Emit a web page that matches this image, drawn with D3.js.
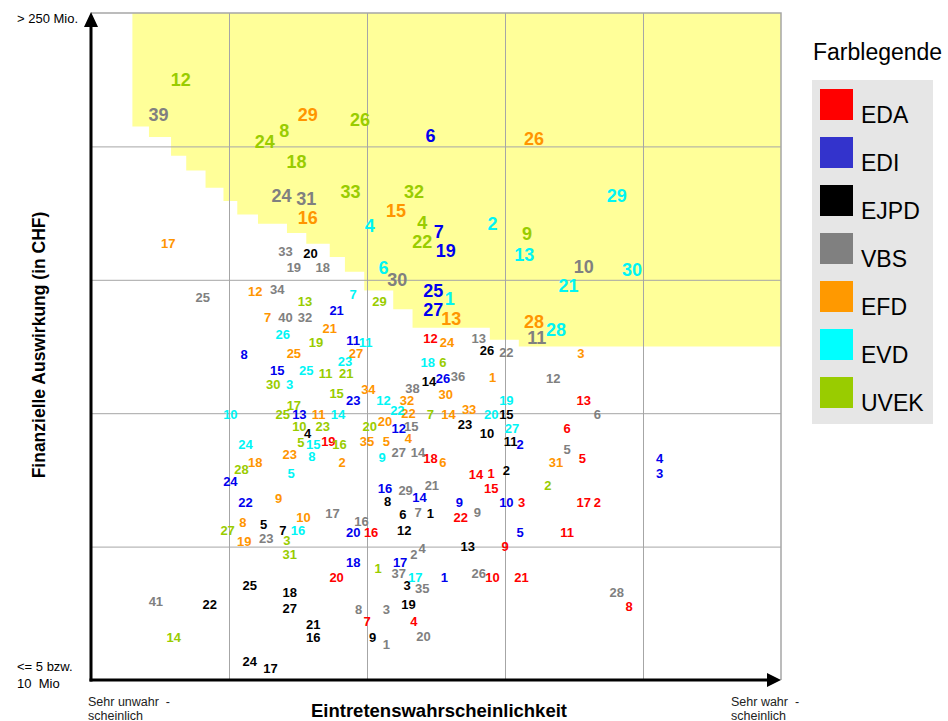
<!DOCTYPE html>
<html>
<head>
<meta charset="utf-8">
<script src="https://cdn.jsdelivr.net/npm/d3@7"></script>
<style>
body{margin:0;background:#fff;font-family:"Liberation Sans",Arial,sans-serif;}
</style>
</head>
<body>
<div id="canvas"></div>
<script>
// Departments, legend colours and label colours
var departments = ['EDA','EDI','EJPD','VBS','EFD','EVD','UVEK'];
var legendColors = ['#ff0000','#3333cc','#000000','#808080','#ff9900','#00ffff','#99cc00'];
var labelColors = ['#ff0000','#0000ee','#000000','#808080','#ff9500','#00f5f5','#99cc00'];

// Risks per department: [number, likelihood, impact], both on a 0-5 scale
var eda = [
    ['12',2.46,2.56],['19',1.72,1.79],['18',2.46,1.66],['14',2.79,1.54],['1',2.90,1.55],
    ['15',2.90,1.44],['22',2.68,1.22],['3',3.12,1.33],['16',2.03,1.11],['9',3.00,1.00],
    ['20',1.78,0.77],['10',2.91,0.77],['21',3.12,0.77],['7',2.00,0.44],['4',2.34,0.44],
    ['8',3.90,0.55],['13',3.57,2.10],['6',3.45,1.89],['5',3.56,1.66],['17',3.57,1.33],
    ['2',3.67,1.33],['11',3.45,1.11]
];
var edi = [
    ['6',2.46,4.08],['7',2.52,3.36],['19',2.57,3.22],['25',2.48,2.92],['27',2.48,2.78],
    ['21',1.78,2.77],['11',1.90,2.55],['8',1.11,2.44],['15',1.35,2.32],['26',2.55,2.26],
    ['23',1.90,2.10],['13',1.51,1.99],['12',2.23,1.89],['2',3.11,1.77],['24',1.01,1.49],
    ['16',2.13,1.44],['14',2.38,1.37],['9',2.67,1.33],['10',3.01,1.33],['22',1.12,1.33],
    ['20',1.90,1.11],['5',3.11,1.11],['18',1.90,0.88],['17',2.24,0.88],['1',2.56,0.77],
    ['4',4.12,1.66],['3',4.12,1.55]
];
var ejpd = [
    ['20',1.59,3.20],['26',2.87,2.47],['14',2.45,2.24],['15',3.01,1.99],['4',1.57,1.85],
    ['23',2.71,1.92],['10',2.87,1.85],['11',3.04,1.79],['2',3.01,1.57],['8',2.15,1.34],
    ['6',2.26,1.24],['1',2.46,1.25],['12',2.27,1.12],['5',1.25,1.17],['7',1.39,1.12],
    ['13',2.73,1.00],['25',1.15,0.71],['18',1.44,0.66],['27',1.44,0.54],['22',0.86,0.57],
    ['21',1.61,0.42],['16',1.61,0.32],['9',2.04,0.32],['3',2.29,0.71],['19',2.30,0.57],
    ['24',1.15,0.14],['17',1.30,0.09]
];
var vbs = [
    ['39',0.49,4.24],['24',1.38,3.63],['31',1.56,3.61],['10',3.57,3.10],['30',2.22,3.00],
    ['11',3.23,2.57],['33',1.41,3.21],['19',1.47,3.09],['18',1.68,3.09],['25',0.81,2.87],
    ['34',1.35,2.93],['40',1.41,2.72],['32',1.55,2.72],['13',2.81,2.56],['22',3.01,2.46],
    ['36',2.66,2.28],['38',2.33,2.19],['12',3.35,2.26],['6',3.67,1.99],['15',2.32,1.90],
    ['27',2.23,1.71],['14',2.37,1.71],['5',3.45,1.73],['29',2.28,1.42],['21',2.47,1.46],
    ['9',2.80,1.26],['7',2.37,1.26],['17',1.75,1.25],['16',1.96,1.19],['23',1.27,1.06],
    ['4',2.40,0.99],['2',2.34,0.94],['37',2.23,0.80],['35',2.40,0.69],['26',2.81,0.80],
    ['28',3.81,0.66],['41',0.47,0.59],['8',1.94,0.53],['3',2.14,0.53],['20',2.41,0.33],
    ['1',2.14,0.27]
];
var efd = [
    ['29',1.57,4.24],['26',3.21,4.06],['16',1.57,3.47],['15',2.21,3.52],['13',2.61,2.71],
    ['28',3.21,2.69],['17',0.56,3.27],['12',1.19,2.91],['7',1.28,2.72],['21',1.73,2.64],
    ['24',2.58,2.53],['27',1.92,2.45],['25',1.47,2.45],['3',3.55,2.45],['1',2.91,2.27],
    ['34',2.01,2.18],['30',2.57,2.14],['32',2.29,2.10],['33',2.74,2.03],['11',1.65,1.99],
    ['22',2.30,2.00],['14',2.59,1.99],['20',2.13,1.94],['35',2.00,1.79],['5',2.14,1.79],
    ['4',2.30,1.81],['23',1.44,1.69],['18',1.19,1.63],['2',1.82,1.63],['6',2.55,1.63],
    ['31',3.37,1.63],['9',1.36,1.36],['10',1.54,1.22],['8',1.10,1.18],['19',1.11,1.04]
];
var evd = [
    ['4',2.02,3.41],['2',2.91,3.42],['13',3.14,3.19],['29',3.81,3.63],['30',3.92,3.08],
    ['21',3.46,2.96],['6',2.12,3.09],['1',2.60,2.86],['28',3.37,2.63],['7',1.90,2.89],
    ['26',1.39,2.59],['11',1.99,2.53],['23',1.84,2.39],['18',2.44,2.38],['25',1.56,2.32],
    ['3',1.44,2.22],['12',2.12,2.10],['19',3.01,2.10],['10',1.01,1.99],['14',1.79,1.99],
    ['22',2.22,2.02],['20',2.90,1.99],['27',3.05,1.89],['24',1.12,1.77],['15',1.61,1.77],
    ['8',1.60,1.68],['9',2.11,1.67],['5',1.45,1.55],['16',1.50,1.12],['17',2.35,0.77]
];
var uvek = [
    ['12',0.65,4.50],['8',1.40,4.12],['24',1.26,4.04],['26',1.95,4.20],['18',1.49,3.89],
    ['33',1.88,3.66],['32',2.34,3.66],['4',2.40,3.43],['22',2.40,3.29],['9',3.16,3.35],
    ['29',2.09,2.84],['13',1.55,2.84],['19',1.63,2.53],['6',2.55,2.38],['11',1.70,2.30],
    ['21',1.85,2.30],['30',1.32,2.22],['15',1.78,2.15],['17',1.47,2.06],['25',1.39,1.99],
    ['7',2.46,1.99],['10',1.51,1.90],['23',1.68,1.90],['20',2.02,1.90],['5',1.52,1.78],
    ['16',1.80,1.77],['28',1.09,1.58],['2',3.31,1.46],['27',0.99,1.12],['3',1.42,1.05],
    ['31',1.44,0.94],['1',2.08,0.84],['14',0.60,0.32]
];
var risks = [eda, edi, ejpd, vbs, efd, evd, uvek];

// Lower-left edge of the yellow zone: [likelihood where step starts, impact of step]
var zoneSteps = [
    [0.30,4.15],[0.42,4.07],[0.58,3.93],[0.69,3.82],[0.83,3.69],[0.96,3.59],
    [1.06,3.49],[1.21,3.42],[1.42,3.35],[1.56,3.27],[1.73,3.17],[1.84,3.06],
    [1.98,2.92],[2.19,2.78],[2.33,2.64],[2.89,2.55],[3.10,2.50]
];
var gridValues = [1,2,3,4];

var W = 948, H = 721;
var m = {t:13, l:91, r:167, b:41};

var svg = d3.select('#canvas').append('svg')
    .attr('width', W).attr('height', H)
    .style('font-family','"Liberation Sans", Arial, sans-serif');

var x = d3.scaleLinear().domain([0,5]).range([m.l, W - m.r]);
var y = d3.scaleLinear().domain([0,5]).range([H - m.b, m.t]);

//Yellow zone as a staircase polygon
var zonePts = [[zoneSteps[0][0], 5]];
zoneSteps.forEach(function(s, i){
    var next = i < zoneSteps.length - 1 ? zoneSteps[i+1][0] : 5;
    zonePts.push([s[0], s[1]]);
    zonePts.push([next, s[1]]);
});
zonePts.push([5,5]);
svg.append('path')
    .datum(zonePts)
    .attr('d', d3.line().x(function(d){return x(d[0]);}).y(function(d){return y(d[1]);}))
    .attr('fill','#ffff99');

//Grid lines via axes
svg.append('g')
    .attr('transform','translate(0,'+y(0)+')')
    .call(d3.axisBottom(x).tickValues(gridValues).tickSize(-(y(0)-y(5))).tickFormat(''))
    .call(function(g){ g.select('.domain').remove(); g.selectAll('line').attr('stroke','#a6a6a6'); });
svg.append('g')
    .attr('transform','translate('+x(0)+',0)')
    .call(d3.axisLeft(y).tickValues(gridValues).tickSize(-(x(5)-x(0))).tickFormat(''))
    .call(function(g){ g.select('.domain').remove(); g.selectAll('line').attr('stroke','#a6a6a6'); });

//Top and right border
svg.append('path')
    .attr('d','M'+x(0)+','+y(5)+'H'+x(5)+'V'+y(0))
    .attr('fill','none').attr('stroke','#a6a6a6').attr('stroke-width',1.5);

//Axes with arrows
svg.append('line').attr('x1',x(0)).attr('x2',x(0)).attr('y1',y(0)+1.5).attr('y2',y(5)+12)
    .attr('stroke','#000').attr('stroke-width',3);
svg.append('path')
    .attr('d','M'+(x(0)-7)+','+(y(5)+14)+'L'+x(0)+','+(y(5)-1)+'L'+(x(0)+7)+','+(y(5)+14)+'Z')
    .attr('fill','#000');
svg.append('line').attr('x1',x(0)-1.5).attr('x2',x(5)-12).attr('y1',y(0)).attr('y2',y(0))
    .attr('stroke','#000').attr('stroke-width',3);
svg.append('path')
    .attr('d','M'+(x(5)-14)+','+(y(0)-7)+'L'+(x(5))+','+y(0)+'L'+(x(5)-14)+','+(y(0)+7)+'Z')
    .attr('fill','#000');

//Inside the yellow zone labels are drawn larger
function inZone(d){
    var step = null;
    zoneSteps.forEach(function(s){ if(d[1] >= s[0]) step = s; });
    return step !== null && d[2] > step[1];
}

var labels = svg.append('g').attr('class','labels');
risks.forEach(function(list, i){
    labels.selectAll('.r'+i)
        .data(list)
        .enter()
        .append('text').attr('class','r'+i)
        .attr('x', function(d){return x(d[1]);})
        .attr('y', function(d){return y(d[2]);})
        .attr('dy','0.36em')
        .attr('text-anchor','middle')
        .attr('font-weight','bold')
        .attr('font-size', function(d){return inZone(d) ? '18px' : '13px';})
        .attr('fill', labelColors[i])
        .text(function(d){return d[0];});
});

//Axis texts
svg.append('text').attr('x',17).attr('y',23).attr('font-size','13px').text('> 250 Mio.');
svg.append('text').attr('x',17).attr('y',671).attr('font-size','13px').text('<= 5 bzw.');
svg.append('text').attr('x',17).attr('y',688).attr('font-size','13px').attr('xml:space','preserve').text('10  Mio');
svg.append('text').attr('x',88).attr('y',706).attr('font-size','12.5px').attr('fill','#222').attr('xml:space','preserve').text('Sehr unwahr  -');
svg.append('text').attr('x',88).attr('y',720).attr('font-size','12.5px').attr('fill','#222').text('scheinlich');
svg.append('text').attr('x',731).attr('y',706).attr('font-size','12.5px').attr('fill','#222').attr('xml:space','preserve').text('Sehr wahr  -');
svg.append('text').attr('x',731).attr('y',720).attr('font-size','12.5px').attr('fill','#222').text('scheinlich');
svg.append('text').attr('x',439).attr('y',717).attr('text-anchor','middle')
    .attr('font-size','18.5px').attr('font-weight','bold').text('Eintretenswahrscheinlichkeit');
svg.append('text').attr('transform','translate(45,345) rotate(-90)').attr('text-anchor','middle')
    .attr('font-size','17.5px').attr('font-weight','bold').text('Finanzielle Auswirkung (in CHF)');

//Legend
svg.append('text').attr('x',813).attr('y',60).attr('font-size','23px').text('Farblegende');
svg.append('rect').attr('x',812).attr('y',80).attr('width',121).attr('height',344).attr('fill','#e6e6e6');
var leg = svg.selectAll('.leg')
    .data(departments)
    .enter()
    .append('g').attr('class','leg')
    .attr('transform',function(d,i){return 'translate(820,'+(89+i*48)+')';});
leg.append('rect').attr('width',33).attr('height',31)
    .attr('fill',function(d,i){return legendColors[i];});
leg.append('text').attr('x',41).attr('y',34).attr('font-size','23px')
    .text(function(d){return d;});
</script>
</body>
</html>
